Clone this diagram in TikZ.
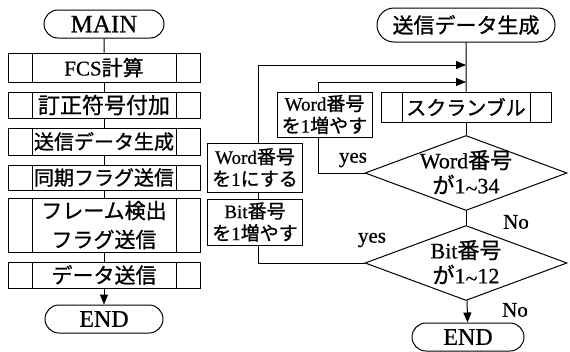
\documentclass[tikz,border=0pt]{standalone}
\usepackage{fontspec}
\setmainfont{Liberation Serif}
\newfontfamily\tm[FakeBold=0.6]{Liberation Serif}
\newfontfamily\jp[FakeBold=1]{Noto Sans CJK JP}
\usetikzlibrary{shapes.misc,shapes.geometric,arrows.meta}
\newcommand{\fs}[2]{\fontsize{#1}{#2}\selectfont\tm}
\newcommand{\tld}{\raisebox{-0.25ex}{\textasciitilde}}
\begin{document}
\begin{tikzpicture}[x=1pt,y=-1pt,line width=1pt,
  term/.style={draw,rounded rectangle,inner sep=0pt,minimum height=28pt},
  proc/.style={draw,rectangle,inner sep=0pt,minimum width=192pt,
    path picture={
      \draw ([xshift=24pt]path picture bounding box.north west) -- ([xshift=24pt]path picture bounding box.south west);
      \draw ([xshift=-24pt]path picture bounding box.north east) -- ([xshift=-24pt]path picture bounding box.south east);}},
  sproc/.style={draw,rectangle,inner sep=0pt,minimum width=170pt,minimum height=30pt,
    path picture={
      \draw ([xshift=21pt]path picture bounding box.north west) -- ([xshift=21pt]path picture bounding box.south west);
      \draw ([xshift=-21pt]path picture bounding box.north east) -- ([xshift=-21pt]path picture bounding box.south east);}},
  sbox/.style={draw,rectangle,inner sep=0pt,minimum width=95pt,align=center,font=\fs{19}{22}},
  dia/.style={draw,diamond,inner sep=0pt,minimum width=202pt,minimum height=75pt},
  dtext/.style={align=center,font=\fs{22}{25},inner sep=0pt},
  lbl/.style={inner sep=0pt,font=\fs{21}{24}},
  arr/.style={-{Triangle[length=10pt,width=8pt]}}]
\useasboundingbox (0,0) rectangle (570,351);

% left column
\node[term,minimum width=120pt,font=\fs{25}{28}] (main) at (104,24) {MAIN};
\node[proc,minimum height=29pt,font=\fs{21}{24}] (fcs) at (104,67.5) {FCS{\jp 計算}};
\node[proc,minimum height=26pt,font=\fs{22}{24}\jp] (ecc) at (104,105) {訂正符号付加};
\node[proc,minimum height=27pt,font=\fs{20}{24}\jp] (gen) at (104,141.5) {送信データ生成};
\node[proc,minimum height=25pt,font=\fs{20}{24}\jp] (sync) at (104,177.5) {同期フラグ送信};
\node[proc,minimum height=54pt,font=\fs{21}{29}\jp,align=center] (frame) at (104,225) {フレーム検出\\フラグ送信};
\node[proc,minimum height=26pt,font=\fs{21}{24}\jp] (send) at (104,275) {データ送信};
\node[term,minimum width=118pt,font=\fs{24}{28}] (end1) at (104,319) {END};

\draw (main) -- (fcs);
\draw (fcs) -- (ecc);
\draw (ecc) -- (gen);
\draw (gen) -- (sync);
\draw (sync) -- (frame);
\draw (frame) -- (send);
\draw[arr] (send) -- (end1);

% right column
\node[term,minimum width=178pt,minimum height=34pt,font=\fs{21}{24}\jp] (start) at (466,25) {送信データ生成};
\node[sproc,font=\fs{20}{24}\jp] (scr) at (466,107) {スクランブル};
\node[dia,label={[dtext]center:Word{\jp 番号}\\{\jp が}1\tld34}] (d1) at (466,173) {};
\node[dia,label={[dtext]center:Bit{\jp 番号}\\{\jp が}1\tld12}] (d2) at (466,263) {};
\node[sbox,minimum height=45pt] (winc) at (324.5,114.5) {Word{\jp 番号}\\{\jp を}1{\jp 増やす}};
\node[sbox,minimum height=49pt] (wone) at (255,167.5) {Word{\jp 番号}\\{\jp を}1{\jp にする}};
\node[sbox,minimum height=46pt] (binc) at (255,222) {Bit{\jp 番号}\\{\jp を}1{\jp 増やす}};
\node[term,minimum width=112pt,font=\fs{24}{28}] (end2) at (468,337) {END};

\coordinate (j1) at (466,65);
\coordinate (j2) at (466,82);

\draw (start) -- (scr);
\draw (scr) -- (d1);
\draw (d1) -- (d2);
\draw[arr] (d2) -- (end2);
\draw (d1.west) -| ([xshift=-6pt]winc.south);
\draw[arr] ([xshift=-6pt]winc.north) |- (j2);
\draw (d2.west) -| ([xshift=3pt]binc.south);
\draw ([xshift=3pt]binc.north) -- ([xshift=3pt]wone.south);
\draw[arr] ([xshift=3pt]wone.north) |- (j1);

\node[lbl] (yes1) at (353,160) {yes};
\node[lbl] (yes2) at (372,240) {yes};
\node[lbl] (no1) at (516,222) {No};
\node[lbl] (no2) at (515,310) {No};
\end{tikzpicture}
\end{document}
